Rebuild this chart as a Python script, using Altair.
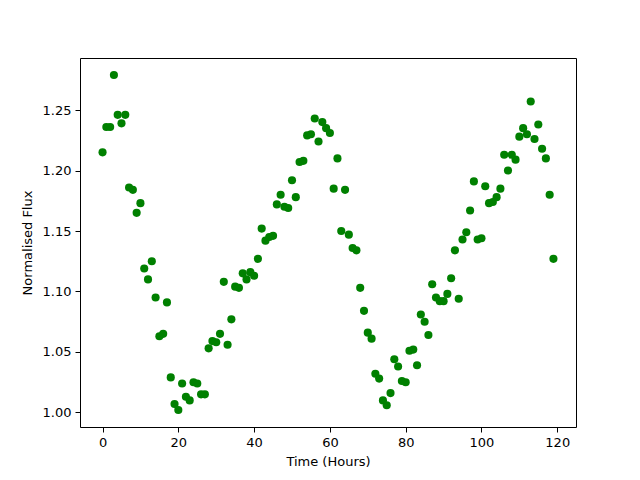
import altair as alt
import pandas as pd

hours = list(range(120))
flux = [
    1.215, 1.236, 1.236, 1.279, 1.246, 1.239, 1.246, 1.186, 1.184, 1.165,
    1.173, 1.119, 1.110, 1.125, 1.095, 1.063, 1.065, 1.091, 1.029, 1.007,
    1.002, 1.024, 1.013, 1.010, 1.025, 1.024, 1.015, 1.015, 1.053, 1.059,
    1.058, 1.065, 1.108, 1.056, 1.077, 1.104, 1.103, 1.115, 1.110, 1.116,
    1.113, 1.127, 1.152, 1.142, 1.145, 1.146, 1.172, 1.180, 1.170, 1.169,
    1.192, 1.178, 1.207, 1.208, 1.229, 1.230, 1.243, 1.224, 1.240, 1.235,
    1.231, 1.185, 1.210, 1.150, 1.184, 1.147, 1.136, 1.134, 1.103, 1.084,
    1.066, 1.061, 1.032, 1.028, 1.010, 1.006, 1.016, 1.044, 1.038, 1.026,
    1.025, 1.051, 1.052, 1.039, 1.081, 1.075, 1.064, 1.106, 1.095, 1.092,
    1.092, 1.098, 1.111, 1.134, 1.094, 1.143, 1.149, 1.167, 1.191, 1.143,
    1.144, 1.187, 1.173, 1.174, 1.178, 1.185, 1.213, 1.200, 1.213, 1.209,
    1.228, 1.235, 1.230, 1.257, 1.226, 1.238, 1.218, 1.210, 1.180, 1.127,
]
x_ticks = [0, 20, 40, 60, 80, 100, 120]
y_ticks = [1.00, 1.05, 1.10, 1.15, 1.20, 1.25]

df = pd.DataFrame({"hours": hours, "flux": flux})

font = "DejaVu Sans"
axis_common = dict(
    labelFont=font, titleFont=font, labelFontSize=13, titleFontSize=13,
    titleFontWeight="normal", labelColor="black", titleColor="black",
    tickColor="black", tickSize=5, labelPadding=4, grid=False,
    domain=False,
)

chart = alt.Chart(df).mark_circle(size=66, opacity=1, color="#008000").encode(
    x=alt.X("hours:Q", title="Time (Hours)",
            scale=alt.Scale(domain=[-5.95, 124.95], nice=False, zero=False),
            axis=alt.Axis(values=x_ticks, format="d", titlePadding=6, **axis_common)),
    y=alt.Y("flux:Q", title="Normalised Flux",
            scale=alt.Scale(domain=[0.988, 1.293], nice=False, zero=False),
            axis=alt.Axis(values=y_ticks, format=".2f", titlePadding=8, **axis_common)),
).properties(
    width=496, height=369,
    autosize=alt.AutoSizeParams(type="none"),
    padding={"left": 72, "top": 50, "right": 56, "bottom": 45},
    background="white",
).configure_view(
    stroke="black", strokeWidth=1
)

chart.save("out.html", embed_options={"renderer": "svg", "actions": False})
